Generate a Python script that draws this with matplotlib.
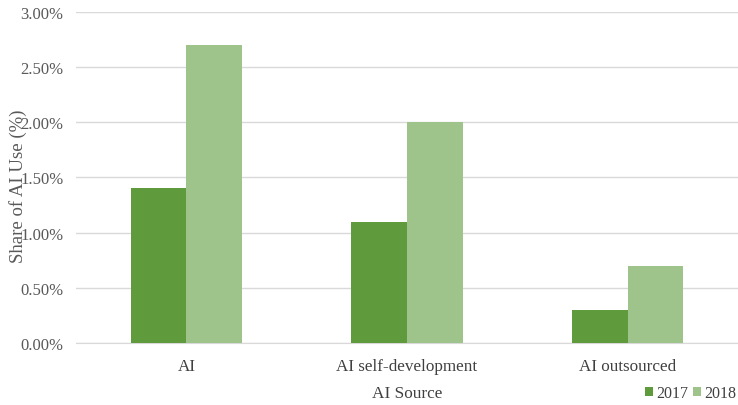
import numpy as np
import matplotlib.pyplot as plt
from matplotlib.ticker import FuncFormatter

categories = ['AI', 'AI self-development', 'AI outsourced']
years = ['2017', '2018']
share_2017 = [1.4, 1.1, 0.3]
share_2018 = [2.7, 2.0, 0.7]
colors = ['#5f9b3d', '#9ec48b']

plt.rcParams['font.family'] = ['Liberation Serif', 'DejaVu Serif']

fig = plt.figure(figsize=(7.38, 4.06), dpi=100)
ax = fig.add_axes([0.103, 0.153, 0.897, 0.815])

x = np.arange(len(categories))
w = 0.253
ax.bar(x - w / 2, share_2017, w, color=colors[0], label=years[0], zorder=3)
ax.bar(x + w / 2, share_2018, w, color=colors[1], label=years[1], zorder=3)

ax.set_xlim(-0.5, 2.5)
ax.set_ylim(0, 3.0)
ax.set_yticks(np.arange(0, 3.01, 0.5))
ax.yaxis.set_major_formatter(FuncFormatter(lambda v, p: f'{v:.2f}%'))
ax.set_xticks(x)
ax.set_xticklabels(categories)
ax.tick_params(axis='y', length=0, labelsize=12, colors='#595959', pad=9)
ax.tick_params(axis='x', length=0, labelsize=12.3, colors='#404040', pad=11)
ax.grid(axis='y', color='#d9d9d9', linewidth=1, zorder=0)
for side in ['top', 'right', 'left']:
    ax.spines[side].set_visible(False)
ax.spines['bottom'].set_color('#d9d9d9')

ax.set_xlabel('AI Source', fontsize=12.4, color='#404040', va='center')
ax.xaxis.set_label_coords(0.5, -0.152)
ax.set_ylabel('Share of AI Use (%)', fontsize=13.5, color='#595959', va='center')
ax.yaxis.set_label_coords(-0.0876, 0.477)

ax.legend(loc='center right', bbox_to_anchor=(1.0, -0.152), ncol=2, frameon=False,
          fontsize=11.5, handlelength=0.5, handleheight=0.5, handletextpad=0.2,
          columnspacing=0.3, labelcolor='#404040', borderaxespad=0, borderpad=0.1)

fig.savefig('out.png', dpi=100)
